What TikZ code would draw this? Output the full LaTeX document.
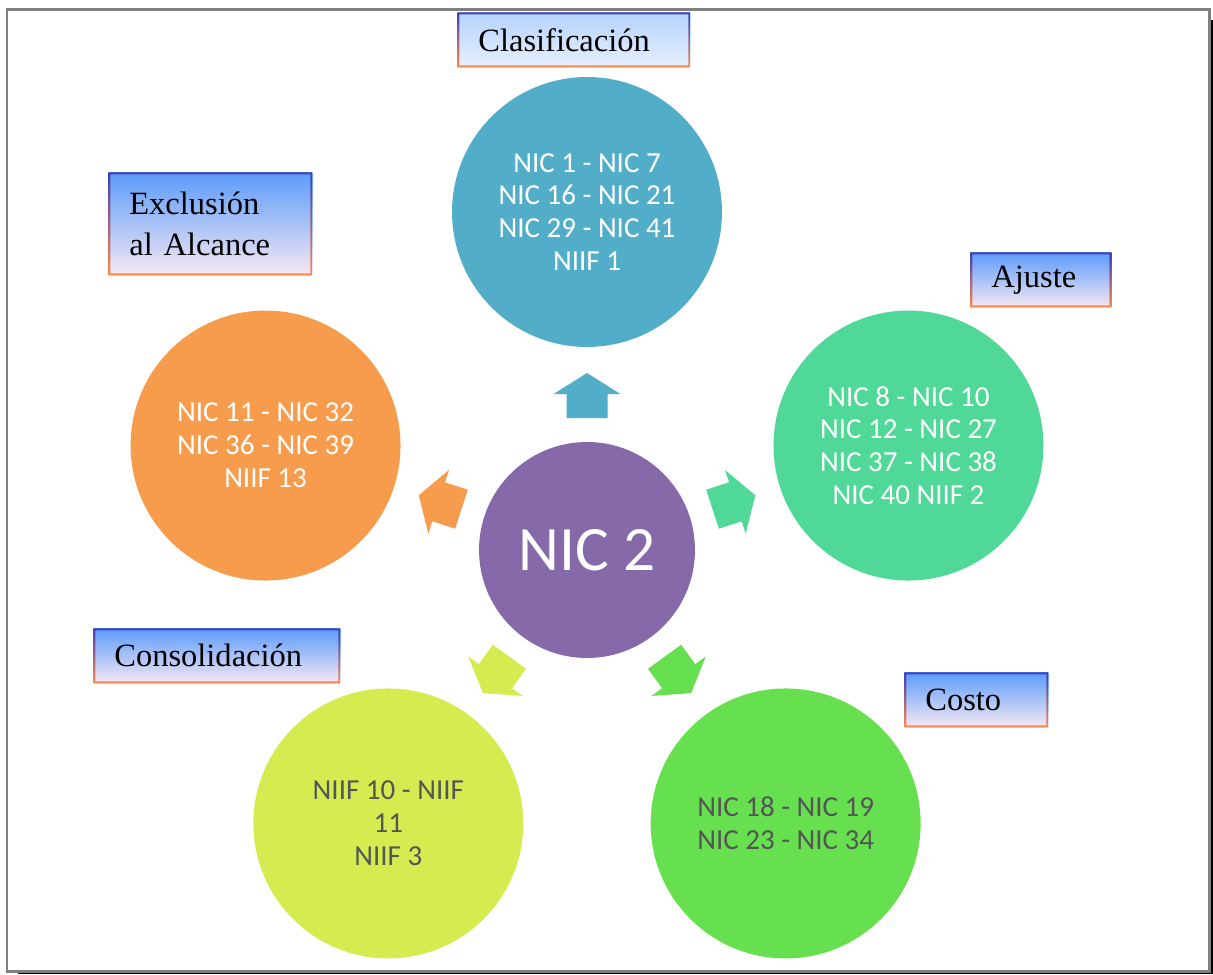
\documentclass[tikz,border=0pt]{standalone}
\usepackage{fontspec}
\setmainfont{Liberation Serif}
\newfontfamily\calibri{Carlito}
\usetikzlibrary{calc}
\usepackage{xcolor}

\definecolor{morado}{HTML}{8669A8}
\definecolor{aqua}{HTML}{52AEC8}
\definecolor{menta}{HTML}{50D898}
\definecolor{verde}{HTML}{66E04F}
\definecolor{lima}{HTML}{D5EB4F}
\definecolor{naranja}{HTML}{F79C4D}
\definecolor{grisnic}{HTML}{555555}
\definecolor{azulcaja}{HTML}{5B9BFA}
\definecolor{rosacaja}{HTML}{F7E8F3}
\definecolor{bordeazul}{HTML}{3F3FB8}
\definecolor{bordemedio}{HTML}{C268A8}
\definecolor{bordenaranja}{HTML}{FF8A4C}

\tikzset{
    flecha/.pic={
        \path[pic actions] (-22.5,-20.5) -- (1.5,-20.5) -- (1.5,-33.5) -- (22.5,0)
            -- (1.5,33.5) -- (1.5,20.5) -- (-22.5,20.5) -- cycle;
    }
}

\begin{document}
\begin{tikzpicture}[
    x=0.02cm, y=0.02cm,
    circulo/.style={circle, minimum size=5.4cm, inner sep=0pt, align=center, text=white, font=\calibri\fontsize{16.5}{18.7}\selectfont},
    centro/.style={circle, fill=morado, minimum size=4.32cm, inner sep=0pt, text=white, font=\calibri\fontsize{36}{40}\selectfont},
    etiqueta/.style={rectangle, anchor=north west, minimum height=1.1cm, inner xsep=0.42cm, align=left,
        top color=azulcaja, bottom color=rosacaja, font=\fontsize{18.5}{23.2}\selectfont,
        path picture={\shade[top color=bordeazul, middle color=bordemedio, bottom color=bordenaranja, even odd rule]
            (path picture bounding box.south west) rectangle (path picture bounding box.north east)
            ([shift={(0.04cm,0.04cm)}]path picture bounding box.south west) rectangle ([shift={(-0.04cm,-0.04cm)}]path picture bounding box.north east);}}
]

\useasboundingbox (0,0) rectangle (1213,974);
% marco con sombra
\fill[black] (18,0) rectangle (1213,954);
\draw[gray, line width=0.06cm, fill=white] (7,3) rectangle (1209,964);

\node[centro] (nic2) at (587,424) {NIC 2};

\node[circulo, fill=aqua] (clasif) at ($(nic2)+(90:338)$) {NIC 1 - NIC 7\\NIC 16 - NIC 21\\NIC 29 - NIC 41\\NIIF 1};
\node[circulo, fill=menta] (ajuste) at ($(nic2)+(18:338)$) {NIC 8 - NIC 10\\NIC 12 - NIC 27\\NIC 37 - NIC 38\\NIC 40 NIIF 2};
\node[circulo, fill=verde, text=grisnic] (costo) at ($(nic2)+(-54:338)$) {NIC 18 - NIC 19\\NIC 23 - NIC 34};
\node[circulo, fill=lima, text=grisnic] (consol) at ($(nic2)+(-126:338)$) {NIIF 10 - NIIF\\11\\NIIF 3};
\node[circulo, fill=naranja] (exclus) at ($(nic2)+(162:338)$) {NIC 11 - NIC 32\\NIC 36 - NIC 39\\NIIF 13};

\foreach \destino/\ang/\col in {clasif/90/aqua, ajuste/18/menta, costo/-54/verde, consol/-126/lima, exclus/162/naranja}
    \pic[fill=\col, rotate=\ang] at ($(nic2)!3.09cm!(\destino)$) {flecha};

\node[etiqueta, top color=azulcaja!45!white, bottom color=azulcaja!15!white, minimum width=4.66cm, text width=3.82cm] (lclasif) at (457,962) {Clasificación};
\node[etiqueta, minimum width=4.08cm, minimum height=2.06cm, text width=3.24cm] (lexclus) at (108,802) {Exclusión\\al Alcance};
\node[etiqueta, minimum width=2.82cm, text width=1.98cm] (lajuste) at (970,722) {Ajuste};
\node[etiqueta, minimum width=4.94cm, text width=4.1cm] (lconsol) at (93,346) {Consolidación};
\node[etiqueta, minimum width=2.88cm, text width=2.04cm] (lcosto) at (904,302) {Costo};

\end{tikzpicture}
\end{document}
